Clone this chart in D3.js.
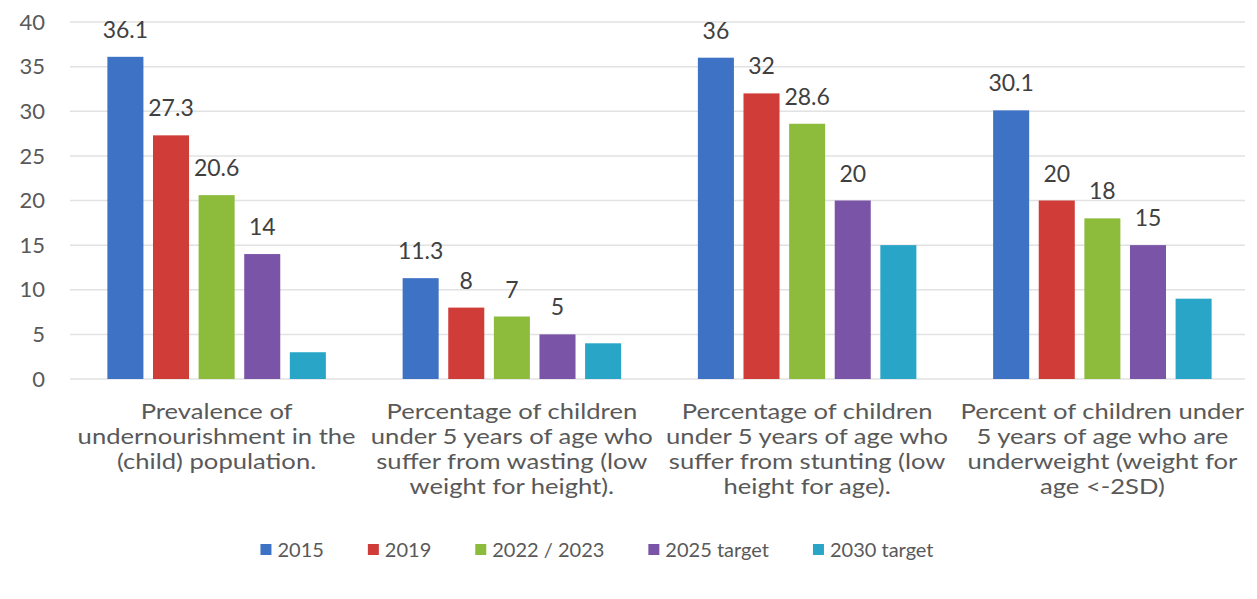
<!DOCTYPE html>
<html>
<head>
<meta charset="utf-8">
<script src="https://cdn.jsdelivr.net/npm/d3@7"></script>
<style>
  body { margin: 0; background: #fff; }
  svg { display: block; }
  text { font-family: Lato, "Open Sans", sans-serif; fill: #595959; }
</style>
</head>
<body>
<svg id="chart"></svg>
<script>
// categories (wrapped the same way as the original)
const categories = [
  ["Prevalence of", "undernourishment in the", "(child) population."],
  ["Percentage of children", "under 5 years of age who", "suffer from wasting (low", "weight for height)."],
  ["Percentage of children", "under 5 years of age who", "suffer from stunting (low", "height for age)."],
  ["Percent of children under", "5 years of age who are", "underweight (weight for", "age <-2SD)"]
];
const series = ["2015", "2019", "2022 / 2023", "2025 target", "2030 target"];
const colors = ["#3d72c4", "#d03c38", "#8dbb3b", "#7a54a7", "#29a6c7"];

const v2015 = [36.1, 11.3, 36, 30.1];
const v2019 = [27.3, 8, 32, 20];
const v2022 = [20.6, 7, 28.6, 18];
const v2025 = [14, 5, 20, 15];
const v2030 = [3, 4, 15, 9];
// the 2030 target bars carry no value label
const labelled = [true, true, true, true, false];

const yTicks = [0, 5, 10, 15, 20, 25, 30, 35, 40];

const svgWidth = 1257, svgHeight = 599;
const svg = d3.select("#chart")
  .attr("width", svgWidth)
  .attr("height", svgHeight);

const allValues = [v2015, v2019, v2022, v2025, v2030];
const catIdx = categories.map((c, i) => i);

let x0 = d3.scaleBand().domain(catIdx).range([69, 1250]);
let x1 = d3.scaleBand().domain(series)
  .range([x0.bandwidth() * 0.13, x0.bandwidth() * 0.87])
  .paddingInner(0.21);
let y = d3.scaleLinear().domain([0, 40]).range([379, 22]);

// gridlines
svg.append("g")
  .selectAll("line")
  .data(yTicks)
  .join("line")
  .attr("x1", 70)
  .attr("x2", 1245)
  .attr("y1", d => y(d))
  .attr("y2", d => y(d))
  .attr("stroke", "#e2e2e2")
  .attr("stroke-width", 1.5);

// y axis labels
svg.append("g")
  .selectAll("text")
  .data(yTicks)
  .join("text")
  .attr("x", 45)
  .attr("y", d => y(d))
  .attr("dy", "0.35em")
  .attr("text-anchor", "end")
  .style("font-size", "22px")
  .text(d => d);

// bars
const groups = svg.append("g")
  .selectAll("g")
  .data(catIdx)
  .join("g")
  .attr("transform", i => "translate(" + x0(i) + ",0)");

groups.selectAll("rect")
  .data(i => series.map((s, k) => ({ s: s, k: k, v: allValues[k][i] })))
  .join("rect")
  .attr("x", d => x1(d.s))
  .attr("width", x1.bandwidth())
  .attr("y", d => y(d.v))
  .attr("height", d => y(0) - y(d.v))
  .attr("fill", d => colors[d.k]);

groups.selectAll("text.val")
  .data(i => series.map((s, k) => ({ s: s, k: k, v: allValues[k][i] })).filter(d => labelled[d.k]))
  .join("text")
  .attr("class", "val")
  .attr("x", d => x1(d.s) + x1.bandwidth() / 2)
  .attr("y", d => y(d.v) - 19)
  .attr("text-anchor", "middle")
  .style("font-size", "23px")
  .style("fill", "#404040")
  .text(d => d.v);

// category labels, slightly stretched horizontally like the source image
const catLabels = svg.append("g")
  .selectAll("text")
  .data(catIdx)
  .join("text")
  .attr("transform", i => "translate(" + (x0(i) + x0.bandwidth() / 2) + ",419) scale(1.22,1)")
  .attr("text-anchor", "middle")
  .style("font-size", "21px");

catLabels.selectAll("tspan")
  .data(i => categories[i])
  .join("tspan")
  .attr("x", 0)
  .attr("dy", (d, j) => j === 0 ? 0 : 25)
  .text(d => d);

// legend
const legend = svg.append("g");
let lx = 0;
series.forEach((s, k) => {
  const item = legend.append("g").attr("transform", "translate(" + lx + ",0)");
  item.append("rect")
    .attr("x", 0)
    .attr("y", -6)
    .attr("width", 11)
    .attr("height", 11)
    .attr("fill", colors[k]);
  const t = item.append("text")
    .attr("x", 17)
    .attr("y", 0)
    .attr("dy", "0.35em")
    .style("font-size", "20px")
    .text(s);
  lx += 17 + t.node().getComputedTextLength() + 44;
});
lx -= 44;
legend.attr("transform", "translate(" + (597 - lx / 2) + ",550)");
</script>
</body>
</html>
